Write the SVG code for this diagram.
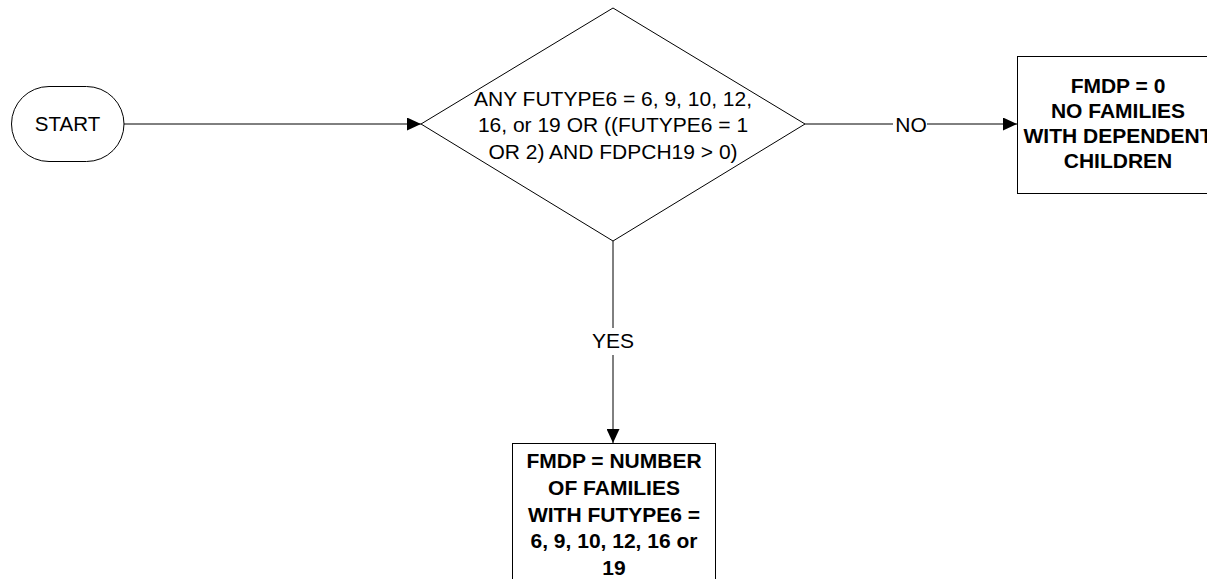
<svg xmlns="http://www.w3.org/2000/svg" width="1207" height="579" viewBox="0 0 1207 579">
  <defs>
    <marker id="arrow" markerUnits="userSpaceOnUse" markerWidth="14" markerHeight="13" refX="14" refY="6.5" orient="auto">
      <path d="M0,0 L14,6.5 L0,13 z" fill="#000"/>
    </marker>
    <style>
      .shape { fill: #fff; stroke: #000; stroke-width: 1; }
      .conn { fill: none; stroke: #000; stroke-width: 1; }
      .t { font-family: "Liberation Sans", Arial, sans-serif; font-size: 21px; fill: #000; text-anchor: middle; }
      .b { font-weight: bold; }
    </style>
  </defs>
  <rect width="1207" height="579" fill="#fff"/>

  <g id="connectors">
    <path class="conn" d="M124,124 H421" marker-end="url(#arrow)"/>
    <path class="conn" d="M805,124 H893 M927,124 H1017" marker-end="url(#arrow)"/>
    <path class="conn" d="M613,241 V328 M613,355 V443" marker-end="url(#arrow)"/>
    <text class="t" x="911" y="132">NO</text>
    <text class="t" x="613" y="348">YES</text>
  </g>

  <g id="start">
    <rect class="shape" x="11.5" y="86.5" width="112.5" height="75" rx="37.5" ry="37.5"/>
    <text class="t" x="67.5" y="131" style="font-size:20.5px">START</text>
  </g>

  <g id="decision">
    <polygon class="shape" points="613,8 805,124 613,241 421,124"/>
    <text class="t" x="613" y="105.5">ANY FUTYPE6 = 6, 9, 10, 12,</text>
    <text class="t" x="613" y="132.2">16, or 19 OR ((FUTYPE6 = 1</text>
    <text class="t" x="613" y="158.9">OR 2) AND FDPCH19 &gt; 0)</text>
  </g>

  <g id="no-families">
    <rect class="shape" x="1017.5" y="56.5" width="202" height="137"/>
    <text class="t b" x="1118" y="93.3">FMDP = 0</text>
    <text class="t b" x="1118" y="118.3">NO FAMILIES</text>
    <text class="t b" x="1118" y="143.3">WITH DEPENDENT</text>
    <text class="t b" x="1118" y="168.3">CHILDREN</text>
  </g>

  <g id="number-families">
    <rect class="shape" x="512.5" y="443.5" width="203" height="150"/>
    <text class="t b" x="614" y="468.3">FMDP = NUMBER</text>
    <text class="t b" x="614" y="495">OF FAMILIES</text>
    <text class="t b" x="614" y="521.7">WITH FUTYPE6 =</text>
    <text class="t b" x="614" y="548.4">6, 9, 10, 12, 16 or</text>
    <text class="t b" x="614" y="575.1">19</text>
  </g>
</svg>
